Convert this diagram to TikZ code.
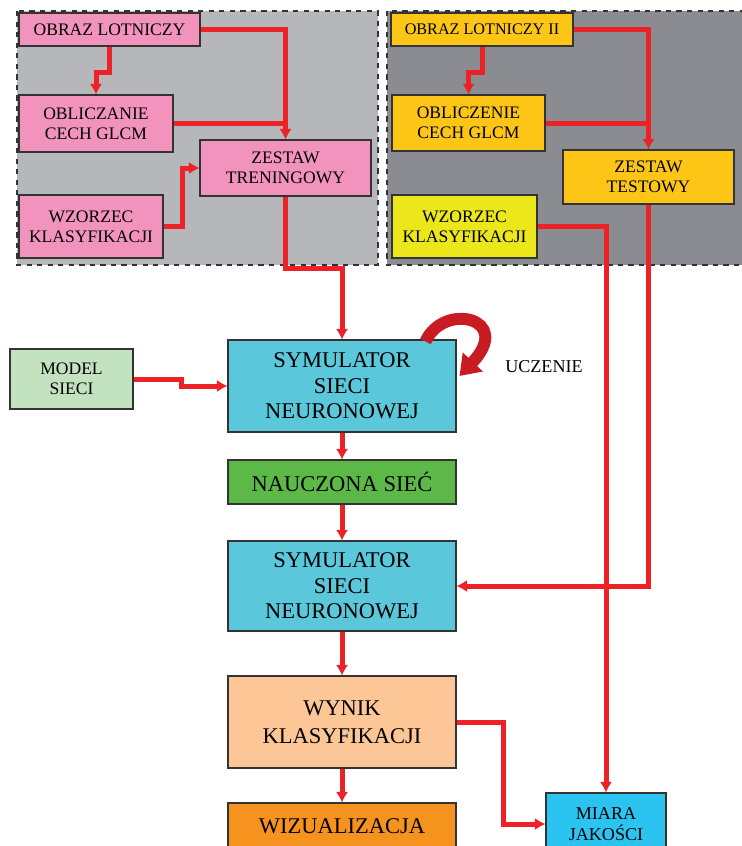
\documentclass[tikz,border=0pt]{standalone}
\usepackage{fontspec}
\setmainfont{Liberation Serif}
\usepackage{tikz}
\definecolor{arrowred}{RGB}{237,34,38}
\definecolor{curvered}{RGB}{200,28,34}
\definecolor{panellight}{RGB}{181,183,186}
\definecolor{paneldark}{RGB}{139,140,145}
\definecolor{trainpink}{RGB}{242,147,190}
\definecolor{testgold}{RGB}{253,198,23}
\definecolor{testyellow}{RGB}{236,231,26}
\definecolor{modelgreen}{RGB}{194,226,192}
\definecolor{simcyan}{RGB}{90,200,218}
\definecolor{netgreen}{RGB}{92,185,71}
\definecolor{resultpeach}{RGB}{252,198,150}
\definecolor{visorange}{RGB}{246,147,30}
\definecolor{qualityblue}{RGB}{43,195,240}
\usetikzlibrary{arrows.meta}

\begin{document}
\begin{tikzpicture}[x=0.02cm, y=-0.02cm,
				>={Latex[length=6pt,width=7pt]},   %Pfeilspitzen
				block/.style={draw=black!80, line width=0.6pt, align=center, inner sep=1pt, font=\fontsize{10}{11.4}\selectfont},
				bigblock/.style={block, minimum width=4.56cm, font=\fontsize{12.8}{14.4}\selectfont},
				flow/.style={draw=arrowred, line width=0.1cm},
				panel/.style={draw=black!80, dashed, line width=0.6pt}]
				%Bildbereich
				\clip (0,0) rectangle (742,846);
				%Hintergrund der Gruppen
				\draw[panel, fill=panellight] (17,11) rectangle (378,265);
				\draw[panel, fill=paneldark] (387,11) rectangle (760,265);
				% Zestaw treningowy
				\node[block, fill=trainpink, minimum width=3.62cm, minimum height=0.66cm] (obraz) at (109.5,29.5) {OBRAZ LOTNICZY};
				\node[block, fill=trainpink, minimum width=3.08cm, minimum height=1.14cm] (oblicz) at (96,123.5) {OBLICZANIE\\CECH GLCM};
				\node[block, fill=trainpink, minimum width=3.42cm, minimum height=1.12cm] (trening) at (285.5,168) {ZESTAW\\TRENINGOWY};
				\node[block, fill=trainpink, minimum width=2.88cm, minimum height=1.26cm] (wzorzec) at (91,226.5) {WZORZEC\\KLASYFIKACJI};
				% Zestaw testowy
				\node[block, fill=testgold, minimum width=3.64cm, minimum height=0.66cm, font=\fontsize{9.2}{11}\selectfont] (obrazII) at (482,29.5) {OBRAZ LOTNICZY II};
				\node[block, fill=testgold, minimum width=3.06cm, minimum height=1.12cm] (obliczII) at (468.5,123) {OBLICZENIE\\CECH GLCM};
				\node[block, fill=testgold, minimum width=3.42cm, minimum height=1.08cm] (test) at (648.5,177) {ZESTAW\\TESTOWY};
				\node[block, fill=testyellow, minimum width=2.9cm, minimum height=1.26cm] (wzorzecII) at (464.5,226.5) {WZORZEC\\KLASYFIKACJI};
				% Hauptkette
				\node[block, fill=modelgreen, minimum width=2.46cm, minimum height=1.2cm] (model) at (71.5,379) {MODEL\\SIECI};
				\node[bigblock, fill=simcyan, minimum height=1.84cm] (sym) at (342,386) {SYMULATOR\\SIECI\\NEURONOWEJ};
				\node[bigblock, fill=netgreen, minimum height=0.88cm] (siec) at (342,482) {NAUCZONA SIEĆ};
				\node[bigblock, fill=simcyan, minimum height=1.8cm] (symII) at (342,586) {SYMULATOR\\SIECI\\NEURONOWEJ};
				\node[bigblock, fill=resultpeach, minimum height=1.84cm, font=\fontsize{12.8}{16}\selectfont] (wynik) at (342,722) {WYNIK\\KLASYFIKACJI};
				\node[bigblock, fill=visorange, minimum height=0.92cm] (wizual) at (342,826) {WIZUALIZACJA};
				\node[block, fill=qualityblue, minimum width=2.4cm, minimum height=1.24cm, font=\fontsize{10.3}{11.8}\selectfont] (miara) at (606,824) {MIARA\\JAKOŚCI};
				\node[font=\fontsize{10.3}{12}\selectfont] (uczenie) at (544,367) {UCZENIE};
				% Verbindungen links
				\draw[flow, ->] (obraz.south) -- ++(0,26) -| (oblicz.north);
				\draw[flow, ->] (obraz.east) -| (trening.north);
				\draw[flow] (oblicz.east) -- (oblicz.east -| trening.north);
				\draw[flow, ->] (wzorzec.east) -- ++(19,0) |- (trening.west);
				\draw[flow, ->] (trening.south) -- ++(0,72) -| (sym.north);
				% Verbindungen rechts
				\draw[flow, ->] (obrazII.south) -- ++(0,26) -| (obliczII.north);
				\draw[flow, ->] (obrazII.east) -| (test.north);
				\draw[flow] (obliczII.east) -- (obliczII.east -| test.north);
				\draw[flow, ->] (wzorzecII.east) -| (miara.north);
				\draw[flow, ->] (test.south) |- (symII.east);
				% Hauptkette
				\draw[flow, ->] (model.east) -- ++(48,0) |- (sym.west);
				\draw[flow, ->] (sym.south) -- (siec.north);
				\draw[flow, ->] (siec.south) -- (symII.north);
				\draw[flow, ->] (symII.south) -- (wynik.north);
				\draw[flow, ->] (wynik.south) -- (wizual.north);
				\draw[flow, ->] (wynik.east) -- ++(47,0) |- (miara.west);
				% Uczenie
				\draw[curvered, line width=0.24cm, -{Triangle[length=11pt,width=15pt]}]
					([xshift=-0.62cm,yshift=-0.04cm]sym.north east) .. controls +(18,-40) and +(55,-58) .. ([xshift=0.06cm,yshift=0.2cm]sym.east);
			\end{tikzpicture}
\end{document}
